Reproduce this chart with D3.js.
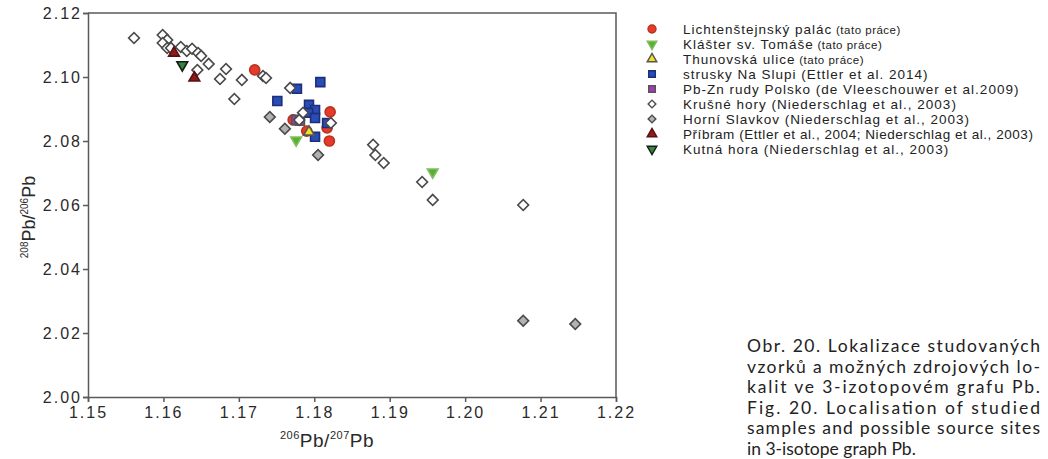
<!DOCTYPE html>
<html>
<head>
<meta charset="utf-8">
<script src="https://cdn.jsdelivr.net/npm/d3@7"></script>
<style>
  body, html { margin: 0; width: 100%; height: 100%; background: #fff; }
  svg { display: block; }
  .tick text { font-family: "Liberation Sans", Arial, sans-serif; font-size: 16px; letter-spacing: 2px; fill: #2a2a2a; }
  .axis path, .axis line { stroke: #5a5a5a; stroke-width: 1.5; }
</style>
</head>
<body>
<script>
// values, [206Pb/207Pb, 208Pb/206Pb]
var lichtenstejn = [[1.1721, 2.1022], [1.1821, 2.0891], [1.1817, 2.0841], [1.1820, 2.0800], [1.1790, 2.0831], [1.1772, 2.0866]]
var klaster = [[1.1776, 2.0803], [1.1957, 2.0703]]
var thunovska = [[1.1793, 2.0828]]
var strusky = [[1.1808, 2.0984], [1.1777, 2.0963], [1.1751, 2.0925], [1.1793, 2.0913], [1.1801, 2.0897],
  [1.1792, 2.0888], [1.1801, 2.0872], [1.1817, 2.0856], [1.1801, 2.0813]]
var polsko = [[1.1776, 2.0866], [1.1781, 2.0863]]
var krusne = [[1.1561, 2.1122], [1.1599, 2.1131], [1.1605, 2.1116], [1.1599, 2.1106], [1.1605, 2.1091],
  [1.1610, 2.1091], [1.1623, 2.1094], [1.1631, 2.1081], [1.1638, 2.1088], [1.1646, 2.1075],
  [1.1650, 2.1066], [1.1645, 2.1022], [1.1660, 2.1041], [1.1683, 2.1025], [1.1675, 2.0994],
  [1.1704, 2.0991], [1.1694, 2.0931], [1.1732, 2.1003], [1.1736, 2.0997], [1.1768, 2.0966],
  [1.1785, 2.0888], [1.1780, 2.0866], [1.1822, 2.0856], [1.1878, 2.0788], [1.1881, 2.0756],
  [1.1892, 2.0731], [1.1943, 2.0672], [1.1957, 2.0616], [1.2077, 2.0600]]
var slavkov = [[1.1741, 2.0875], [1.1761, 2.0838], [1.1805, 2.0756], [1.2077, 2.0238], [1.2146, 2.0228]]
var pribram = [[1.1614, 2.1075], [1.1641, 2.0997]]
var kutna = [[1.1625, 2.1038]]

var xTicks = [1.15, 1.16, 1.17, 1.18, 1.19, 1.20, 1.21, 1.22]
var yTicks = [2.00, 2.02, 2.04, 2.06, 2.08, 2.10, 2.12]

var series = [
  {name: 'Lichtenštejnský palác', note: '(tato práce)', data: lichtenstejn, shape: 'circle', fill: '#e63b2b', stroke: '#b8321f'},
  {name: 'Klášter sv. Tomáše', note: '(tato práce)', data: klaster, shape: 'down', fill: '#58b030', stroke: '#7fbf60'},
  {name: 'Thunovská ulice', note: '(tato práce)', data: thunovska, shape: 'up', fill: '#f2e21c', stroke: '#555'},
  {name: 'strusky Na Slupi (Ettler et al. 2014)', note: '', data: strusky, shape: 'square', fill: '#2a4db5', stroke: '#1c2f7a'},
  {name: 'Pb-Zn rudy Polsko (de Vleeschouwer et al.2009)', note: '', data: polsko, shape: 'square', fill: '#a23bb5', stroke: '#555'},
  {name: 'Krušné hory (Niederschlag et al., 2003)', note: '', data: krusne, shape: 'diamond', fill: '#fff', stroke: '#4a4a4a'},
  {name: 'Horní Slavkov (Niederschlag et al., 2003)', note: '', data: slavkov, shape: 'diamond', fill: '#b2b2b2', stroke: '#4a4a4a'},
  {name: 'Příbram (Ettler et al., 2004; Niederschlag et al., 2003)', note: '', data: pribram, shape: 'up', fill: '#8e1b1b', stroke: '#5a1010'},
  {name: 'Kutná hora (Niederschlag et al., 2003)', note: '', data: kutna, shape: 'down', fill: '#2f8a3c', stroke: '#1a1a1a'}
]
// drawing order in plot (later on top)
var drawOrder = [0, 3, 4, 6, 5, 2, 1, 7, 8]

var width = 1048, height = 459
var svg = d3.select('body').append('svg').attr('width', width).attr('height', height)

var x = d3.scaleLinear().domain([1.15, 1.22]).range([88, 616])
var y = d3.scaleLinear().domain([2.00, 2.12]).range([397, 13])

function symbolPath(shape){
  if(shape == 'circle') return d3.symbol(d3.symbolCircle, 80)()
  if(shape == 'square') return d3.symbol(d3.symbolSquare, 80)()
  if(shape == 'diamond') return d3.symbol(d3.symbolSquare, 58)()
  return d3.symbol(d3.symbolTriangle, 50)()
}
function symbolRot(shape){
  if(shape == 'diamond') return 45
  if(shape == 'down') return 180
  return 0
}

// frame
svg.append('path')
  .attr('d', 'M' + x(1.15) + ',' + y(2.12) + 'H' + x(1.22) + 'V' + y(2.00))
  .attr('fill', 'none').attr('stroke', '#5a5a5a').attr('stroke-width', 1.5)

svg.append('g').attr('class', 'axis')
  .attr('transform', 'translate(0,' + y(2.00) + ')')
  .call(d3.axisBottom(x).tickValues(xTicks).tickFormat(d3.format('.2f')).tickSize(5).tickPadding(5))
svg.append('g').attr('class', 'axis')
  .attr('transform', 'translate(' + x(1.15) + ',0)')
  .call(d3.axisLeft(y).tickValues(yTicks).tickFormat(d3.format('.2f')).tickSize(5).tickPadding(1))

// axis titles
var font = '"Liberation Sans", Arial, sans-serif'
var xt = svg.append('text').attr('x', 327).attr('y', 447)
  .attr('text-anchor', 'middle').attr('font-family', font).attr('font-size', 19)
  .attr('letter-spacing', 0.5).attr('fill', '#2a2a2a')
xt.append('tspan').attr('font-size', 11).attr('dy', -8).text('206')
xt.append('tspan').attr('dy', 8).text('Pb/')
xt.append('tspan').attr('font-size', 11).attr('dy', -8).text('207')
xt.append('tspan').attr('dy', 8).text('Pb')

var yt = svg.append('text').attr('transform', 'translate(35,217) rotate(-90)')
  .attr('text-anchor', 'middle').attr('font-family', font).attr('font-size', 18)
  .attr('fill', '#2a2a2a')
yt.append('tspan').attr('font-size', 10).attr('dy', -7).text('208')
yt.append('tspan').attr('dy', 7).text('Pb/')
yt.append('tspan').attr('font-size', 10).attr('dy', -7).text('206')
yt.append('tspan').attr('dy', 7).text('Pb')

// points
var plot = svg.append('g')
drawOrder.forEach(function(i){
  var s = series[i]
  plot.append('g').selectAll('path').data(s.data).enter().append('path')
    .attr('d', symbolPath(s.shape))
    .attr('transform', function(d){
      return 'translate(' + x(d[0]) + ',' + y(d[1]) + ') rotate(' + symbolRot(s.shape) + ')'
    })
    .attr('fill', s.fill).attr('stroke', s.stroke).attr('stroke-width', 1.6)
})

// legend
var legend = svg.append('g')
series.forEach(function(s, i){
  var ly = 29 + i * 15
  var sym = s.shape == 'circle' ? d3.symbol(d3.symbolCircle, 50)
    : s.shape == 'diamond' ? d3.symbol(d3.symbolSquare, 30)
    : s.shape == 'square' ? d3.symbol(d3.symbolSquare, 44)
    : d3.symbol(d3.symbolTriangle, 40)
  legend.append('path')
    .attr('d', sym())
    .attr('transform', 'translate(652,' + ly + ') rotate(' + symbolRot(s.shape) + ')')
    .attr('fill', s.fill).attr('stroke', s.stroke).attr('stroke-width', 1.4)
  // the long Příbram line has to stay inside the page
  var t = legend.append('text').attr('x', 683).attr('y', ly + 5)
    .attr('font-family', font).attr('font-size', 13.5)
    .attr('letter-spacing', s.name.length > 50 ? 0.55 : 1).attr('fill', '#222')
  t.append('tspan').text(s.name)
  if(s.note) t.append('tspan').attr('font-size', 11.5).attr('letter-spacing', 0.5).text(' ' + s.note)
})

// caption
var caption = [
  'Obr. 20. Lokalizace studovaných',
  'vzorků a možných zdrojových lo-',
  'kalit ve 3-izotopovém grafu Pb.',
  'Fig. 20. Localisation of studied',
  'samples and possible source sites',
  'in 3-isotope graph Pb.'
]
svg.append('g').selectAll('text').data(caption).enter().append('text')
  .attr('x', 747).attr('y', function(d, i){ return 352 + i * 20.5 })
  .attr('font-family', 'Lato, "Open Sans", sans-serif').attr('font-size', 17.5).attr('fill', '#222')
  .each(function(d, i){
    if(i < caption.length - 1) d3.select(this).attr('textLength', 293).attr('lengthAdjust', 'spacing')
  })
  .text(function(d){ return d })
</script>
</body>
</html>
